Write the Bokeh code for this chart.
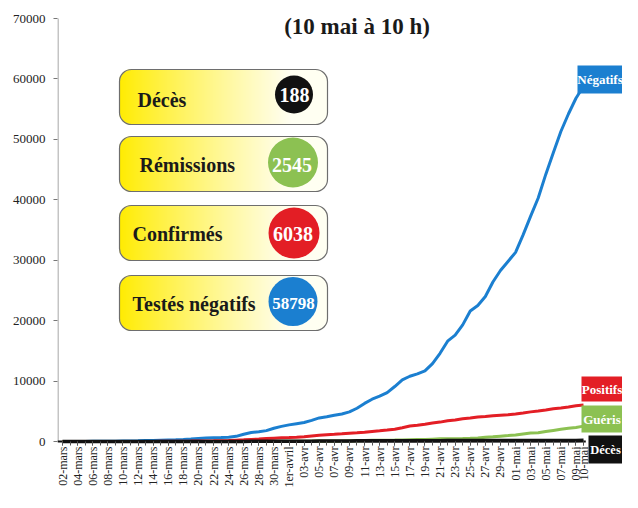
import math
import numpy as np
from bokeh.plotting import figure
from bokeh.models import Range1d, FixedTicker, NumeralTickFormatter
from bokeh.core.properties import value
from bokeh.embed import file_html
from bokeh.resources import INLINE

# ---------------- data ----------------
days = [
    "02-mars", "03-mars", "04-mars", "05-mars", "06-mars", "07-mars", "08-mars", "09-mars",
    "10-mars", "11-mars", "12-mars", "13-mars", "14-mars", "15-mars", "16-mars", "17-mars",
    "18-mars", "19-mars", "20-mars", "21-mars", "22-mars", "23-mars", "24-mars", "25-mars",
    "26-mars", "27-mars", "28-mars", "29-mars", "30-mars", "31-mars",
    "1er-avril", "02-avr", "03-avr", "04-avr", "05-avr", "06-avr", "07-avr", "08-avr",
    "09-avr", "10-avr", "11-avr", "12-avr", "13-avr", "14-avr", "15-avr", "16-avr",
    "17-avr", "18-avr", "19-avr", "20-avr", "21-avr", "22-avr", "23-avr", "24-avr",
    "25-avr", "26-avr", "27-avr", "28-avr", "29-avr", "30-avr",
    "01-mai", "02-mai", "03-mai", "04-mai", "05-mai", "06-mai", "07-mai", "08-mai",
    "09-mai", "10-mai",
]
tick_labels = [
    "02-mars", "04-mars", "06-mars", "08-mars", "10-mars", "12-mars", "14-mars", "16-mars",
    "18-mars", "20-mars", "22-mars", "24-mars", "26-mars", "28-mars", "30-mars",
    "1er-avril", "03-avr", "05-avr", "07-avr", "09-avr", "11-avr", "13-avr", "15-avr",
    "17-avr", "19-avr", "21-avr", "23-avr", "25-avr", "27-avr", "29-avr",
    "01-mai", "03-mai", "05-mai", "07-mai", "09-mai", "10-mai",
]
y_ticks = [0, 10000, 20000, 30000, 40000, 50000, 60000, 70000]

negatifs = [
    0, 0, 10, 20, 30, 40, 50, 60, 80, 100, 120, 150, 180, 220, 260, 300, 350, 420, 500, 560,
    610, 660, 720, 850, 1200, 1500, 1600, 1800, 2200, 2500,
    2750, 2950, 3150, 3500, 3900, 4100, 4350, 4550, 4900, 5500, 6300, 7000, 7500, 8100, 9100,
    10200, 10800, 11200, 11700, 12900, 14600, 16600, 17600, 19300, 21600, 22500, 24000, 26400,
    28300, 29800,
    31300, 34200, 37300, 40300, 44200, 47800, 51300, 54200, 56800, 58798,
]
positifs = [
    1, 1, 1, 2, 2, 2, 2, 2, 3, 5, 6, 7, 17, 28, 37, 44, 54, 63, 86, 96,
    115, 143, 170, 225, 275, 345, 402, 479, 556, 617,
    654, 708, 791, 919, 1021, 1120, 1184, 1275, 1374, 1448, 1545, 1661, 1763, 1888, 2024,
    2283, 2564, 2685, 2855, 3046, 3209, 3446, 3568, 3758, 3897, 4065, 4120, 4252, 4359, 4423,
    4569, 4729, 4903, 5053, 5219, 5408, 5548, 5711, 5910, 6038,
]
gueris = [
    0, 0, 0, 0, 0, 0, 0, 0, 0, 0, 0, 0, 0, 1, 1, 1, 1, 2, 3, 3,
    3, 5, 6, 11, 11, 12, 13, 15, 15, 24,
    29, 40, 59, 66, 76, 81, 93, 97, 109, 121, 162, 203, 203, 217, 229,
    249, 281, 314, 327, 393, 440, 456, 468, 486, 531, 593, 695, 778, 887, 984,
    1083, 1256, 1394, 1438, 1653, 1838, 2017, 2176, 2324, 2545,
]
deces = [
    0, 0, 0, 0, 0, 0, 0, 0, 1, 1, 1, 1, 1, 1, 1, 2, 2, 2, 3, 3,
    4, 4, 5, 6, 10, 23, 25, 33, 36, 39,
    44, 47, 48, 59, 70, 80, 90, 93, 97, 107, 111, 118, 126, 126, 127,
    130, 135, 137, 141, 143, 143, 145, 145, 155, 159, 161, 162, 165, 168, 170,
    171, 173, 174, 179, 181, 183, 183, 186, 186, 188,
]

box_labels = ["Décès", "Rémissions", "Confirmés", "Testés négatifs"]
box_values = ["188", "2545", "6038", "58798"]
end_labels = ["Négatifs", "Positifs", "Guéris", "Décès"]
title_line = "(10 mai à 10 h)"

# ---------------- layout ----------------
W, H = 622, 492
FRAME_LEFT = 57
PX0, KX = 62.0, 7.551          # screen x of first day, px per day
PY0, KY = 441.0, 423 / 70000   # screen y of zero, px per unit


def xd(px):
    return (px - PX0) / KX


def yd(py):
    return (PY0 - py) / KY


SERIF = value("Liberation Serif")
BLUE, RED, GREEN, BLACK = "#1b7fd0", "#e31e25", "#8cc152", "#111111"

p = figure(width=W, height=H, output_backend="svg", toolbar_location=None,
           x_range=Range1d(xd(FRAME_LEFT), xd(W)), y_range=Range1d(yd(H), yd(0)),
           min_border_left=FRAME_LEFT, min_border_right=0, min_border_top=0,
           min_border_bottom=0)
p.outline_line_color = None
p.grid.visible = False
p.background_fill_color = "white"
p.border_fill_color = "white"

# x axis
xa = p.xaxis[0]
tick_pos = [days.index(l) for l in tick_labels]
xa.fixed_location = 0
xa.ticker = FixedTicker(ticks=tick_pos, minor_ticks=list(range(len(days))))
xa.major_label_overrides = {t: l for t, l in zip(tick_pos, tick_labels)}
xa.major_label_orientation = math.pi / 2
xa.axis_line_color = None
xa.major_tick_out = 4
xa.major_tick_in = 0
xa.minor_tick_out = 4
xa.minor_tick_in = 0
xa.major_tick_line_color = "#555555"
xa.minor_tick_line_color = "#555555"
xa.major_label_standoff = 1
xa.major_label_text_font = "Liberation Serif"
xa.major_label_text_font_size = "12px"
xa.major_label_text_color = "#222222"

# y axis
ya = p.yaxis[0]
ya.ticker = FixedTicker(ticks=y_ticks, minor_ticks=[])
ya.formatter = NumeralTickFormatter(format="0")
ya.axis_line_color = None
ya.major_tick_out = 4
ya.major_tick_in = 0
ya.major_tick_line_color = "#777777"
ya.minor_tick_line_color = None
ya.major_label_standoff = 8
ya.major_label_text_font = "Liberation Serif"
ya.major_label_text_font_size = "13px"
ya.major_label_text_color = "#222222"

# axis lines
p.segment(x0=[xd(57.5)], y0=[y_ticks[0]], x1=[xd(57.5)], y1=[y_ticks[-1]],
          line_color="#8a8a8a", line_width=1)
p.segment(x0=[xd(57)], y0=[0], x1=[len(days) - 0.7], y1=[0],
          line_color=BLACK, line_width=2)

# series
xs = list(range(len(days)))
p.line(xs, negatifs, line_color=BLUE, line_width=3)
p.line(xs, positifs, line_color=RED, line_width=3)
p.line(xs, gueris, line_color=GREEN, line_width=3)
p.line(xs, deces, line_color=BLACK, line_width=3.5)

# title
p.text(x=[xd(356.5)], y=[yd(26)], text=[title_line], text_font=SERIF,
       text_font_size="23px", text_font_style="bold", text_color="#1a1a1a",
       text_align="center", text_baseline="middle")


# rounded gradient boxes
def gradient_box(w, h, r):
    img = np.zeros((h, w), dtype=np.uint32)
    v = img.view(dtype=np.uint8).reshape((h, w, 4))
    yy, xx = np.mgrid[0:h, 0:w].astype(float) + 0.5
    t = np.clip(xx / (w * 0.82), 0, 1) ** 0.9
    c0 = np.array([255, 236, 0], float)
    c1 = np.array([255, 255, 242], float)
    for k in range(3):
        v[..., k] = (c0[k] + (c1[k] - c0[k]) * t).astype(np.uint8)
    dx = np.maximum(np.maximum(r - xx, xx - (w - r)), 0)
    dy = np.maximum(np.maximum(r - yy, yy - (h - r)), 0)
    d = np.sqrt(dx ** 2 + dy ** 2)
    v[..., 3] = (np.clip(r - d + 0.5, 0, 1) * 255).astype(np.uint8)
    return img


BOX_L, BOX_R, BOX_H, RAD = 119, 327, 55, 12
box_tops = [69, 136, 205, 275]
circ_colors = [BLACK, GREEN, RED, BLUE]
circ_centers = [(293.5, 94), (292.5, 162), (293.5, 232.5), (292.5, 301)]
circ_sizes = [38, 50, 51, 49]
lab_x = [137, 139, 132, 132]
lab_mid = [99.5, 164, 233, 303]
num_x = [294, 291.5, 292.5, 293]
num_mid = [94.5, 164.5, 233, 302.5]
num_size = ["20px", "20px", "20px", "17px"]

img = gradient_box(BOX_R - BOX_L, BOX_H, RAD)
for i, top in enumerate(box_tops):
    p.image_rgba(image=[img], x=xd(BOX_L), y=yd(top + BOX_H),
                 dw=(BOX_R - BOX_L) / KX, dh=BOX_H / KY)
    p.quad(left=[xd(BOX_L)], right=[xd(BOX_R)], top=[yd(top)], bottom=[yd(top + BOX_H)],
           border_radius=RAD, fill_color=None, line_color="#6e6e6e", line_width=1.2)
    p.text(x=[xd(lab_x[i])], y=[yd(lab_mid[i])], text=[box_labels[i]], text_font=SERIF,
           text_font_size="20px", text_font_style="bold", text_color="#1a1a1a",
           text_align="left", text_baseline="middle")
    cx, cy = circ_centers[i]
    p.scatter(x=[xd(cx)], y=[yd(cy)], size=circ_sizes[i], marker="circle",
              fill_color=circ_colors[i], line_color=None)
    p.text(x=[xd(num_x[i])], y=[yd(num_mid[i])], text=[box_values[i]], text_font=SERIF,
           text_font_size=num_size[i], text_font_style="bold", text_color="white",
           text_align="center", text_baseline="middle")

# end labels
END_R = 622
end_lefts = [577, 581, 581, 588]
end_spans = [(65, 93), (376, 401), (405, 432), (435, 463)]
end_colors = [BLUE, RED, GREEN, BLACK]
end_sizes = ["13px", "13px", "13px", "12.5px"]
for lab, el, (t, b), c, fs in zip(end_labels, end_lefts, end_spans, end_colors, end_sizes):
    p.quad(left=[xd(el)], right=[xd(END_R)], top=[yd(t)], bottom=[yd(b)],
           fill_color=c, line_color=None)
    p.text(x=[xd((el + END_R) / 2)], y=[yd((t + b) / 2)], text=[lab], text_font=SERIF,
           text_font_size=fs, text_font_style="bold", text_color="white",
           text_align="center", text_baseline="middle")

open("out.html", "w").write(file_html(p, INLINE))
